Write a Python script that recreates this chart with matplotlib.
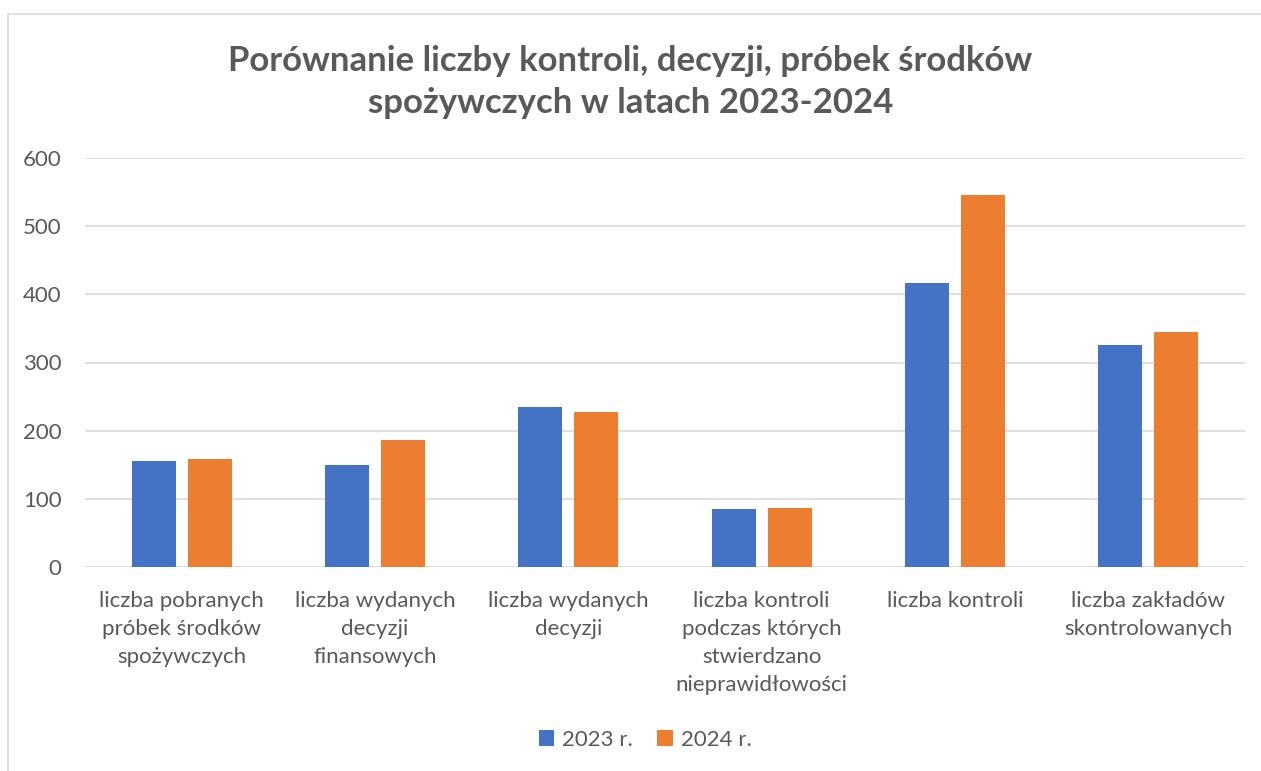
import matplotlib
matplotlib.use("Agg")
import matplotlib.pyplot as plt
import numpy as np

categories = [
    "liczba pobranych\npróbek środków\nspożywczych",
    "liczba wydanych\ndecyzji\nfinansowych",
    "liczba wydanych\ndecyzji",
    "liczba kontroli\npodczas których\nstwierdzano\nnieprawidłowości",
    "liczba kontroli",
    "liczba zakładów\nskontrolowanych",
]
series_names = ["2023 r.", "2024 r."]
values_2023 = [155, 150, 234, 85, 416, 326]
values_2024 = [158, 186, 228, 86, 545, 345]
colors = ["#4472C4", "#ED7D31"]

plt.rcParams["font.family"] = ["Lato", "DejaVu Sans"]
text_color = "#595959"

fig = plt.figure(figsize=(12.61, 7.71), dpi=100)
ax = fig.add_axes([85 / 1261, 1 - 567 / 771, 1160 / 1261, 409 / 771])

# outer chart border
fig.patches.append(plt.Rectangle((8 / 1261, -0.01), 1.0, 1 - 14 / 771 + 0.01,
                                 transform=fig.transFigure, fill=False,
                                 edgecolor="#D9D9D9", linewidth=1.2))

x = np.arange(len(categories))
w = 0.228
off = 0.145
ax.bar(x - off, values_2023, w, color=colors[0], label=series_names[0], zorder=3)
ax.bar(x + off, values_2024, w, color=colors[1], label=series_names[1], zorder=3)

ax.set_xlim(-0.5, len(categories) - 0.5)
ax.set_ylim(0, 600)
ax.set_yticks(range(0, 601, 100))
ax.yaxis.grid(True, color="#D9D9D9", linewidth=1.2, zorder=0)
for s in ["top", "right", "left", "bottom"]:
    ax.spines[s].set_visible(False)
ax.axhline(0, color="#D9D9D9", linewidth=1.2, zorder=2)
ax.tick_params(axis="both", length=0, colors=text_color, labelsize=16)
ax.tick_params(axis="y", pad=17)
ax.tick_params(axis="x", pad=17)
ax.set_xticks(x)
ax.set_xticklabels(categories, linespacing=1.5, va="top")

fig.text(0.5, 1 - 82 / 771, "Porównanie liczby kontroli, decyzji, próbek środków\nspożywczych w latach 2023-2024",
         ha="center", va="center", fontsize=25, fontweight="bold", color=text_color,
         linespacing=1.4)

fig.legend(loc="center", bbox_to_anchor=(645 / 1261, 1 - 740 / 771), ncol=2, frameon=False,
           fontsize=16, labelcolor=text_color, handlelength=0.7, handleheight=0.7,
           handletextpad=0.35, columnspacing=1.1)

fig.savefig("out.png", dpi=100, facecolor="white")
